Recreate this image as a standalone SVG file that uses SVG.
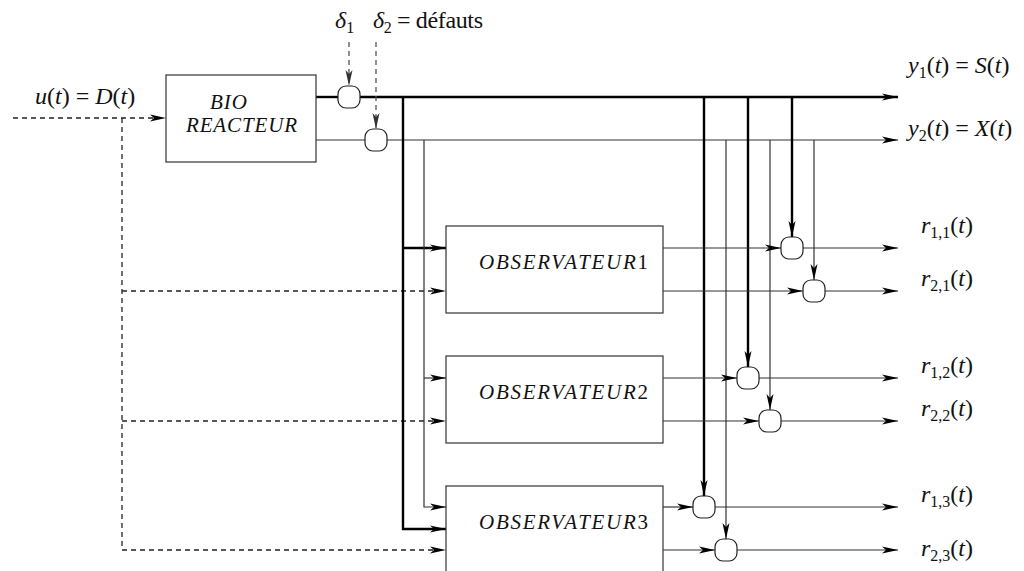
<svg xmlns="http://www.w3.org/2000/svg" width="1024" height="571" viewBox="0 0 1024 571" font-family="'Liberation Serif', 'DejaVu Serif', 'Times New Roman', serif">
<style>
text{font-family:"Liberation Serif","DejaVu Serif","Times New Roman",serif;fill:#111}
.m{font-size:24px}
.i{font-style:italic}
.s{font-size:16px}
.box{fill:#fff;stroke:#333;stroke-width:1.2}
.sum{fill:#fff;stroke:#222;stroke-width:1.2}
.lbl{font-size:21px;font-style:italic}
.thick{fill:none;stroke:#000;stroke-width:2.4}
.thin{fill:none;stroke:#333;stroke-width:1.2}
.dash{fill:none;stroke:#222;stroke-width:1.3;stroke-dasharray:5 4}
.gdash{fill:none;stroke:#555;stroke-width:1.3;stroke-dasharray:5 4}
</style>
<defs>
<marker id="ar" markerUnits="userSpaceOnUse" markerWidth="17" markerHeight="9" refX="16" refY="4.5" orient="auto" overflow="visible">
<path d="M0,1 L16,4.5 L0,8 L4,4.5 Z" fill="#000"/>
</marker>
<marker id="arg" markerUnits="userSpaceOnUse" markerWidth="17" markerHeight="9" refX="16" refY="4.5" orient="auto" overflow="visible">
<path d="M0,1 L16,4.5 L0,8 L4,4.5 Z" fill="#333"/>
</marker>
</defs>
<rect width="1024" height="571" fill="#fff"/>

<g id="connectors">
<path class="thick" d="M316,97 H338"/>
<path class="thick" d="M360,97 H898" marker-end="url(#ar)"/>
<path class="thin" d="M316,140 H365"/>
<path class="thin" d="M387,140 H898" marker-end="url(#ar)"/>
<path class="gdash" d="M349,42 V86" marker-end="url(#arg)"/>
<path class="gdash" d="M376,42 V129" marker-end="url(#arg)"/>
<path class="dash" d="M13,118 H166" marker-end="url(#ar)"/>
<path class="dash" d="M122,118 V550"/>
<path class="dash" d="M122,291 H446" marker-end="url(#ar)"/>
<path class="dash" d="M122,421 H446" marker-end="url(#ar)"/>
<path class="dash" d="M122,550 H446" marker-end="url(#ar)"/>
<path class="thick" d="M403,97 V529 H446" marker-end="url(#ar)"/>
<path class="thick" d="M403,248 H446" marker-end="url(#ar)"/>
<path class="thin" d="M424,140 V507 H446" marker-end="url(#ar)"/>
<path class="thin" d="M424,378 H446" marker-end="url(#ar)"/>
<path class="thick" d="M704,97 V496" marker-end="url(#ar)"/>
<path class="thick" d="M748,97 V367" marker-end="url(#ar)"/>
<path class="thick" d="M792,97 V237" marker-end="url(#ar)"/>
<path class="thin" d="M726,140 V539" marker-end="url(#ar)"/>
<path class="thin" d="M770,140 V410" marker-end="url(#ar)"/>
<path class="thin" d="M814,140 V280" marker-end="url(#ar)"/>
<path class="thin" d="M663,248 H781" marker-end="url(#ar)"/>
<path class="thin" d="M803,248 H898" marker-end="url(#ar)"/>
<path class="thin" d="M663,291 H803" marker-end="url(#ar)"/>
<path class="thin" d="M825,291 H898" marker-end="url(#ar)"/>
<path class="thin" d="M663,378 H737" marker-end="url(#ar)"/>
<path class="thin" d="M759,378 H898" marker-end="url(#ar)"/>
<path class="thin" d="M663,421 H759" marker-end="url(#ar)"/>
<path class="thin" d="M781,421 H898" marker-end="url(#ar)"/>
<path class="thin" d="M663,507 H693" marker-end="url(#ar)"/>
<path class="thin" d="M715,507 H898" marker-end="url(#ar)"/>
<path class="thin" d="M663,550 H715" marker-end="url(#ar)"/>
<path class="thin" d="M737,550 H898" marker-end="url(#ar)"/>
</g>

<g id="bioreacteur">
<rect class="box" x="166" y="75" width="150" height="87"/>
<text class="lbl" x="210" y="109" textLength="37" lengthAdjust="spacing">BIO</text>
<text class="lbl" x="186" y="132" textLength="111" lengthAdjust="spacing">REACTEUR</text>
</g>
<g id="observateur1">
<rect class="box" x="446" y="226" width="217" height="87"/>
<text class="lbl" x="479" y="269" textLength="169" lengthAdjust="spacing">OBSERVATEUR<tspan font-style="normal">1</tspan></text>
</g>
<g id="observateur2">
<rect class="box" x="446" y="356" width="217" height="87"/>
<text class="lbl" x="479" y="399" textLength="169" lengthAdjust="spacing">OBSERVATEUR<tspan font-style="normal">2</tspan></text>
</g>
<g id="observateur3">
<rect class="box" x="446" y="486" width="217" height="90"/>
<text class="lbl" x="479" y="529" textLength="169" lengthAdjust="spacing">OBSERVATEUR<tspan font-style="normal">3</tspan></text>
</g>

<g id="sum-d1"><rect class="sum" x="338" y="86" width="22" height="22" rx="8"/></g>
<g id="sum-d2"><rect class="sum" x="365" y="129" width="22" height="22" rx="8"/></g>
<g id="sum-r11"><rect class="sum" x="781" y="237" width="22" height="22" rx="8"/></g>
<g id="sum-r21"><rect class="sum" x="803" y="280" width="22" height="22" rx="8"/></g>
<g id="sum-r12"><rect class="sum" x="737" y="367" width="22" height="22" rx="8"/></g>
<g id="sum-r22"><rect class="sum" x="759" y="410" width="22" height="22" rx="8"/></g>
<g id="sum-r13"><rect class="sum" x="693" y="496" width="22" height="22" rx="8"/></g>
<g id="sum-r23"><rect class="sum" x="715" y="539" width="22" height="22" rx="8"/></g>

<g id="labels">
<text class="m" x="35" y="104"><tspan class="i">u</tspan>(<tspan class="i">t</tspan>) = <tspan class="i">D</tspan>(<tspan class="i">t</tspan>)</text>
<text class="m" x="335" y="28"><tspan class="i">δ</tspan><tspan class="s" dy="5">1</tspan></text>
<text class="m" x="373" y="28" textLength="110" lengthAdjust="spacing"><tspan class="i">δ</tspan><tspan class="s" dy="5">2</tspan><tspan dy="-5"> = défauts</tspan></text>
<text class="m" x="908" y="73"><tspan class="i">y</tspan><tspan class="s" dy="5">1</tspan><tspan dy="-5">(</tspan><tspan class="i">t</tspan>) = <tspan class="i">S</tspan>(<tspan class="i">t</tspan>)</text>
<text class="m" x="908" y="136"><tspan class="i">y</tspan><tspan class="s" dy="5">2</tspan><tspan dy="-5">(</tspan><tspan class="i">t</tspan>) = <tspan class="i">X</tspan>(<tspan class="i">t</tspan>)</text>
<text class="m" x="921" y="233"><tspan class="i">r</tspan><tspan class="s" dy="5">1,1</tspan><tspan dy="-5">(</tspan><tspan class="i">t</tspan>)</text>
<text class="m" x="921" y="286"><tspan class="i">r</tspan><tspan class="s" dy="5">2,1</tspan><tspan dy="-5">(</tspan><tspan class="i">t</tspan>)</text>
<text class="m" x="921" y="373"><tspan class="i">r</tspan><tspan class="s" dy="5">1,2</tspan><tspan dy="-5">(</tspan><tspan class="i">t</tspan>)</text>
<text class="m" x="921" y="416"><tspan class="i">r</tspan><tspan class="s" dy="5">2,2</tspan><tspan dy="-5">(</tspan><tspan class="i">t</tspan>)</text>
<text class="m" x="921" y="502"><tspan class="i">r</tspan><tspan class="s" dy="5">1,3</tspan><tspan dy="-5">(</tspan><tspan class="i">t</tspan>)</text>
<text class="m" x="921" y="556"><tspan class="i">r</tspan><tspan class="s" dy="5">2,3</tspan><tspan dy="-5">(</tspan><tspan class="i">t</tspan>)</text>
</g>
</svg>
